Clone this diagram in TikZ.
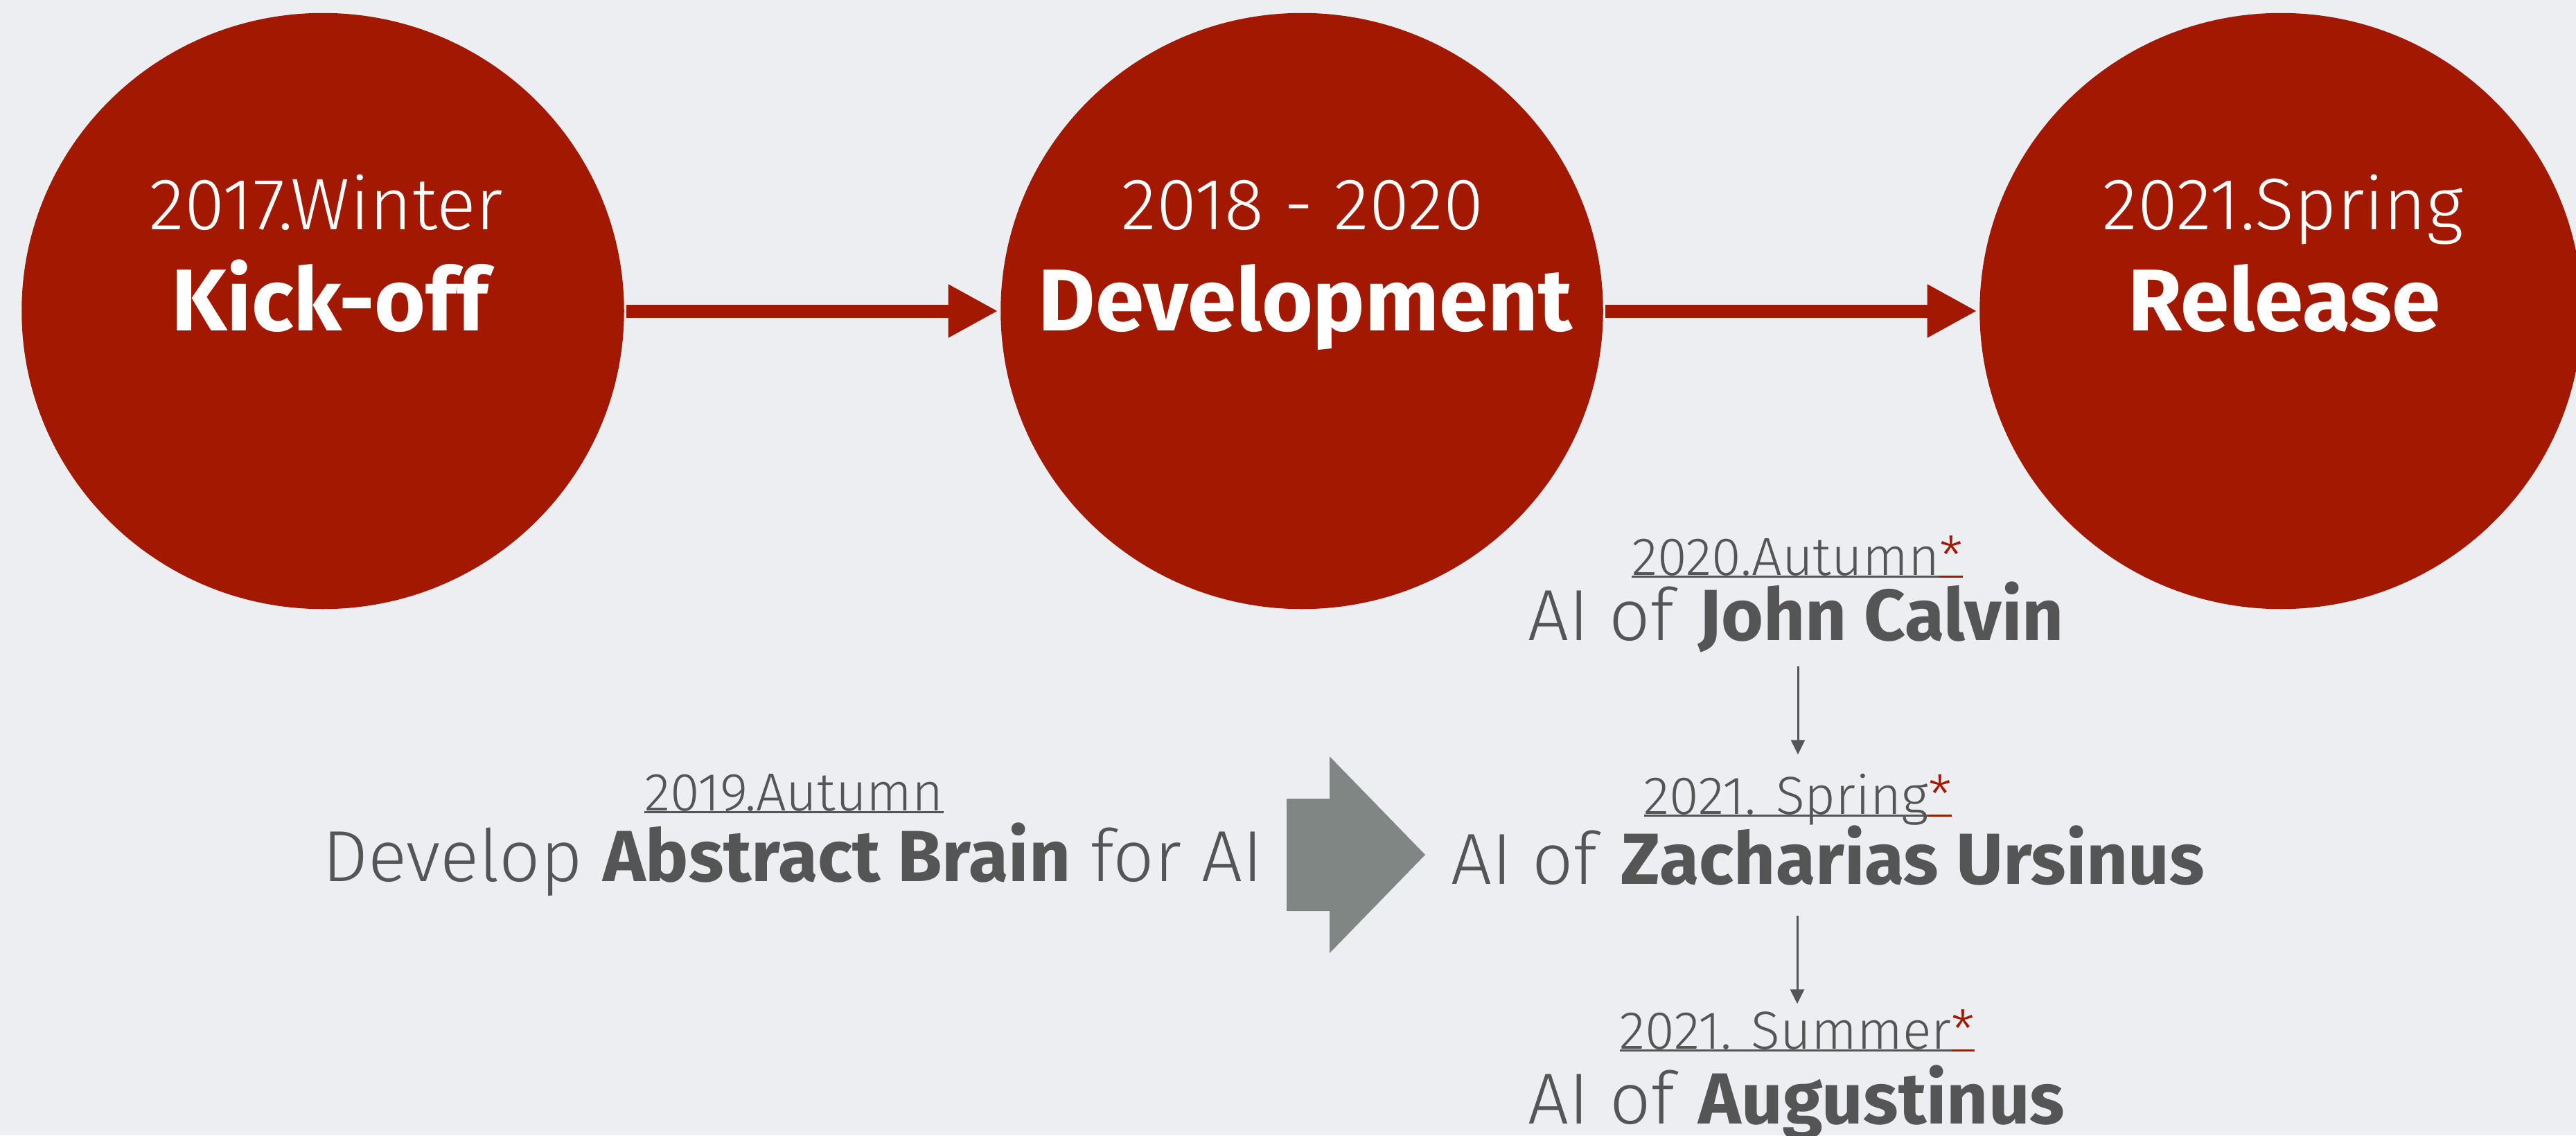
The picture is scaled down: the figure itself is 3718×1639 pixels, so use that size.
\documentclass[tikz,border=0pt]{standalone}
\usepackage{fontspec}
\setmainfont{Fira Sans}[UprightFont={* Light}, BoldFont={* Bold}]
\usepackage{tikz}
\usetikzlibrary{arrows.meta, positioning, shapes.geometric}

\definecolor{bgpaper}{RGB}{237,238,242}
\definecolor{dotred}{RGB}{163,24,0}
\definecolor{txtgray}{RGB}{85,85,85}
\definecolor{boxgray}{RGB}{128,134,131}

% underlined piece of a date, with the red star
\newcommand{\ulpart}[2]{\setbox0\hbox{#2}\rlap{\color{#1}\rule[-1.2pt]{\wd0}{0.9pt}}\box0}
\newcommand{\datemark}[1]{\ulpart{txtgray}{#1}\ulpart{dotred}{\textcolor{dotred}{*}}}

\tikzset{
  bigdot/.style={ellipse, fill=dotred, minimum width=8.69cm, minimum height=8.6cm, inner sep=0},
  yearlbl/.style={anchor=base, text=white, inner sep=0, font=\fontsize{30}{36}\selectfont},
  phaselbl/.style={anchor=base, text=white, inner sep=0, font=\fontsize{36}{42}\selectfont\bfseries},
  datelbl/.style={anchor=base, text=txtgray, inner sep=0, text height=0.6cm, text depth=0.1cm, font=\fontsize{22}{26}\selectfont},
  ailbl/.style={anchor=base, text=txtgray, inner sep=0, text height=0.75cm, text depth=0.2cm, font=\fontsize{29.7}{34}\selectfont},
  redarrow/.style={draw=dotred, line width=5.4pt, -{Triangle[length=0.72cm, width=0.72cm]}},
  thinarrow/.style={draw=txtgray, line width=0.85pt, -{Triangle[length=0.21cm, width=0.2cm]}},
}

\begin{document}
\begin{tikzpicture}[x=0.01cm, y=-0.01cm]
	\useasboundingbox (0, 0) rectangle (3718, 1639);
	\fill[bgpaper] (0, 0) rectangle (3718, 1639);

	% timeline
	\node[bigdot] (kick) at (466, 449) {};
	\node[bigdot] (dev) at (1879, 449) {};
	\node[bigdot] (rel) at (3292, 449) {};
	\node[yearlbl] (kickyear) at (471, 331) {2017.Winter};
	\node[phaselbl] (kickname) at (476, 477) {Kick-off};
	\node[yearlbl] (devyear) at (1880, 331) {2018 - 2020};
	\node[phaselbl] (devname) at (1884, 477) {Development};
	\node[yearlbl] (relyear) at (3295, 331) {2021.Spring};
	\node[phaselbl] (relname) at (3297, 477) {Release};
	\draw[redarrow, shorten <=0.03cm, shorten >=0.03cm] (kick) -- (dev);
	\draw[redarrow, shorten <=0.03cm, shorten >=0.03cm] (dev) -- (rel);

	% brain
	\node[datelbl] (brainyear) at (1146, 1170) {\ulpart{txtgray}{2019.Autumn}};
	\node[ailbl] (brain) at (1144, 1272) {Develop \textbf{Abstract Brain} for AI};
	\fill[boxgray] (1857, 1153) -- (1919, 1153) -- (1919, 1092) -- (2057, 1234)
		-- (1919, 1376) -- (1919, 1315) -- (1857, 1315) -- cycle;

	% AI chain
	\node[datelbl] (calvinyear) at (2594, 830) {\datemark{2020.Autumn}};
	\node[ailbl] (calvin) at (2592, 924) {AI of \textbf{John Calvin}};
	\node[datelbl] (ursinusyear) at (2595, 1175) {\datemark{2021. Spring}};
	\node[ailbl] (ursinus) at (2638, 1276) {AI of \textbf{Zacharias Ursinus}};
	\node[datelbl] (augustyear) at (2594, 1514) {\datemark{2021. Summer}};
	\node[ailbl] (august) at (2593, 1622) {AI of \textbf{Augustinus}};
	\draw[thinarrow, shorten <=0.17cm, shorten >=0.25cm] (calvin.south -| ursinusyear.north) -- (ursinusyear.north);
	\draw[thinarrow, shorten <=0.25cm, shorten >=0.04cm] (ursinus.south -| augustyear.north) -- (augustyear.north);
\end{tikzpicture}
\end{document}
